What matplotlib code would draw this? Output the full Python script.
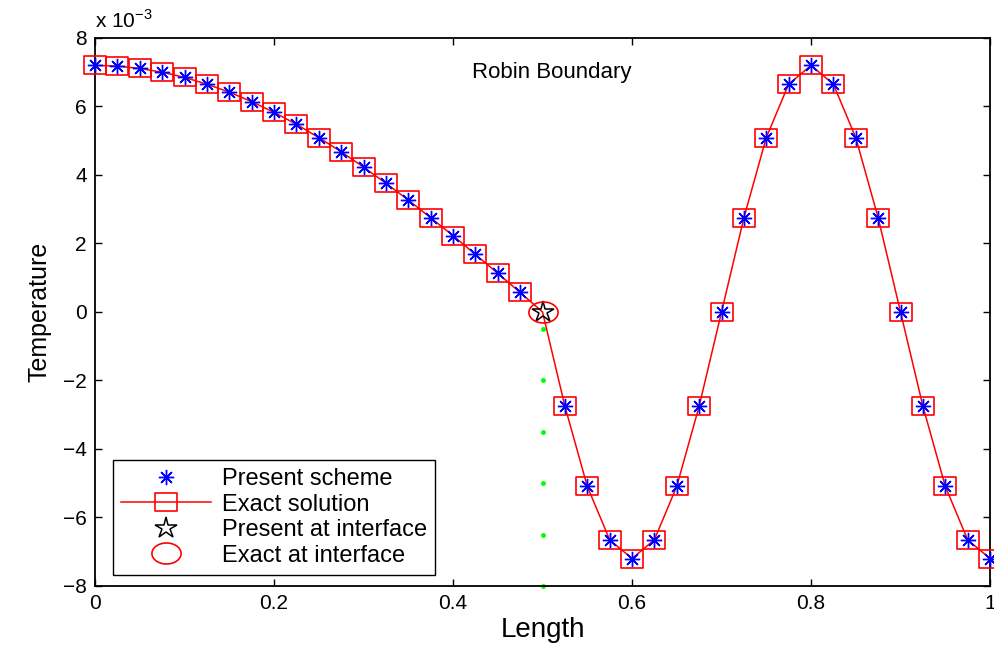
import matplotlib
matplotlib.use("Agg")
import matplotlib.pyplot as plt
import numpy as np
from matplotlib.path import Path

plt.rcParams['font.family'] = ['Liberation Sans', 'DejaVu Sans']
plt.rcParams['mathtext.fontset'] = 'custom'
plt.rcParams['mathtext.rm'] = 'Liberation Sans'

# grid and temperatures (units of 1e-3)
length = [0.0, 0.025, 0.05, 0.075, 0.1, 0.125, 0.15, 0.175, 0.2, 0.225,
          0.25, 0.275, 0.3, 0.325, 0.35, 0.375, 0.4, 0.425, 0.45, 0.475,
          0.5, 0.525, 0.55, 0.575, 0.6, 0.625, 0.65, 0.675, 0.7, 0.725,
          0.75, 0.775, 0.8, 0.825, 0.85, 0.875, 0.9, 0.925, 0.95, 0.975, 1.0]
temp_e3 = [7.20, 7.18, 7.11, 7.00, 6.85, 6.65, 6.42, 6.14, 5.83, 5.48,
           5.09, 4.68, 4.23, 3.76, 3.27, 2.75, 2.23, 1.68, 1.13, 0.57,
           0.00, -2.75, -5.09, -6.65, -7.20, -6.65, -5.09, -2.75, 0.00, 2.75,
           5.09, 6.65, 7.20, 6.65, 5.09, 2.75, 0.00, -2.75, -5.09, -6.65, -7.20]
iface_x = 0.5
iface_temp = 0.0
guide_y = [-0.5, -2.0, -3.5, -5.0, -6.5, -8.0]

x = np.array(length)
y = np.array(temp_e3)
not_iface = [i for i in range(len(x)) if abs(x[i] - iface_x) > 1e-9]

# stretched markers (the original image is wider than tall)
rect = Path([(-1, -0.8), (1, -0.8), (1, 0.8), (-1, 0.8), (-1, -0.8)],
            [Path.MOVETO, Path.LINETO, Path.LINETO, Path.LINETO, Path.CLOSEPOLY])
t = np.linspace(0, 2 * np.pi, 60)
ellipse = Path(np.column_stack([np.cos(t), 0.72 * np.sin(t)]), closed=True)
asterisk = (8, 2, 0)

fig = plt.figure(figsize=(9.95, 6.47), dpi=100)
ax = fig.add_axes([0.0955, 0.0943, 0.8995, 0.847])

ax.plot(x[not_iface], y[not_iface], linestyle='none', marker=asterisk,
        color='blue', markersize=11, markeredgewidth=1.0, zorder=4,
        clip_on=False, label='Present scheme')
ax.plot(x, y, color='red', lw=1.1, marker=rect, markersize=15.5,
        markevery=not_iface, markerfacecolor='none', markeredgecolor='red',
        markeredgewidth=1.2, zorder=3, clip_on=False, label='Exact solution')
ax.plot([iface_x], [iface_temp], linestyle='none', marker='*', color='black',
        markerfacecolor='none', markersize=16, markeredgewidth=1.1, zorder=5,
        label='Present at interface')
ax.plot([iface_x], [iface_temp], linestyle='none', marker=ellipse,
        color='red', markerfacecolor='none', markersize=21,
        markeredgewidth=1.2, zorder=5, label='Exact at interface')
ax.plot([iface_x] * len(guide_y), guide_y, linestyle='none', marker='.',
        color=(0, 1, 0), markersize=5, clip_on=False, zorder=2)

ax.set_xlim(0, 1)
ax.set_ylim(-8, 8)
ax.set_xticks([0, 0.2, 0.4, 0.6, 0.8, 1.0])
ax.set_xticklabels(['0', '0.2', '0.4', '0.6', '0.8', '1'])
ax.set_yticks(range(-8, 9, 2))
ax.set_yticklabels(['\u22128', '\u22126', '\u22124', '\u22122', '0', '2', '4', '6', '8'])
ax.tick_params(direction='in', length=5, width=1, labelsize=15,
               top=True, right=True, pad=6)
for s in ax.spines.values():
    s.set_linewidth(1.3)

ax.set_xlabel('Length', fontsize=20, labelpad=3)
ax.set_ylabel('Temperature', fontsize=18, labelpad=8)
ax.text(0.0, 1.012, r'x 10$^{\mathregular{-3}}$', transform=ax.transAxes,
        fontsize=15, ha='left', va='bottom')
ax.text(0.51, 7.0, 'Robin Boundary', fontsize=16, ha='center', va='center')

leg = ax.legend(loc='lower left', bbox_to_anchor=(0.02, 0.02),
                borderaxespad=0, fontsize=17, handlelength=3.8,
                handletextpad=0.45, labelspacing=0.15, fancybox=False,
                framealpha=1, edgecolor='black', borderpad=0.35)
leg.get_frame().set_linewidth(1.0)

fig.savefig('out.png', dpi=100)
